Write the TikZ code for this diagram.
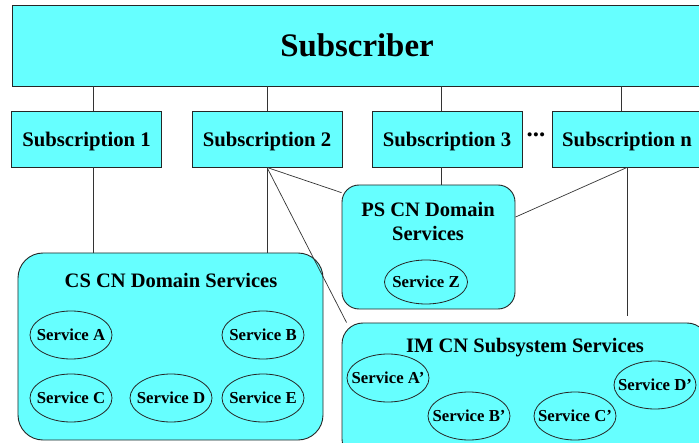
\documentclass[tikz,border=0pt]{standalone}
\usepackage{fontspec}
\setmainfont{Liberation Serif}
\usetikzlibrary{shapes.geometric,calc}
\definecolor{boxcyan}{RGB}{102,255,255}
\newcommand{\svctext}[1]{\makebox[0pt][c]{#1}}
\begin{document}
\begin{tikzpicture}[x=1bp,y=-1bp,
  box/.style={draw=black!85, fill=boxcyan, line width=0.9bp, rectangle, inner sep=0pt},
  subbox/.style={box, minimum width=150bp, minimum height=56bp, text depth=0pt,
    font=\fontsize{20.8}{24}\selectfont\bfseries},
  domainbox/.style={box, rounded corners=#1},
  titletext/.style={inner sep=0pt, text depth=0pt, font=\fontsize{20.6}{24}\selectfont\bfseries, align=center},
  svc/.style={ellipse, draw=black!85, line width=0.8bp, inner sep=0pt,
    minimum width=82bp, minimum height=48bp, font=\fontsize{16.8}{19}\selectfont\bfseries},
  conn/.style={draw=black!80, line width=0.7bp}
]
\useasboundingbox (0,0) rectangle (699,443);
\clip (0,0) rectangle (699,443);

% top box
\node[box, minimum width=690bp, minimum height=81bp, font=\fontsize{33}{38}\selectfont\bfseries] (subscriber) at (357,45.5) {Subscriber};

% subscriptions
\node[subbox] (sub1) at (86.5,139) {Subscription 1};
\node[subbox] (sub2) at (267,139) {Subscription 2};
\node[subbox] (sub3) at (447,139) {Subscription 3};
\node[subbox] (subn) at (627,139) {Subscription n};
\node[inner sep=0pt, anchor=base, font=\fontsize{25}{28}\selectfont\bfseries] (dots) at (536,137) {...};

% domain containers
\node[domainbox=25bp, minimum width=305bp, minimum height=187bp] (cs) at (170.5,346.5) {};
\node[domainbox=17bp, minimum width=173bp, minimum height=124bp] (ps) at (428.5,247) {};
\node[domainbox=21bp, minimum width=366bp, minimum height=137bp] (im) at (525,391.5) {};

\node[titletext] (cstitle) at (171,280) {CS CN Domain Services};
\node[titletext] (pstitle) at (428,221) {PS CN Domain\\Services};
\node[titletext] (imtitle) at (525,345) {IM CN Subsystem Services};

% services
\node[svc] (sA) at (71,335) {\svctext{Service A}};
\node[svc] (sB) at (263,335) {\svctext{Service B}};
\node[svc] (sC) at (71,398) {\svctext{Service C}};
\node[svc] (sD) at (171,398) {\svctext{Service D}};
\node[svc] (sE) at (263,398) {\svctext{Service E}};
\node[svc, minimum width=83bp, minimum height=44bp] (sZ) at (426,282) {\svctext{Service Z}};
\node[svc] (sAp) at (388,378) {\svctext{Service A’}};
\node[svc] (sBp) at (469,416) {\svctext{Service B’}};
\node[svc] (sCp) at (575,416) {\svctext{Service C’}};
\node[svc] (sDp) at (655,385) {\svctext{Service D’}};

% connector x positions
\coordinate (c1x) at (93,0);
\coordinate (c2x) at (267,0);
\coordinate (c3x) at (441,0);
\coordinate (cnx) at (621,0);
\coordinate (nend) at (627,316);
\coordinate (imcorner) at ($(im.north west)+(5,0)$);

\draw[conn] (subscriber.south -| c1x) -- (sub1.north -| c1x);
\draw[conn] (subscriber.south -| c2x) -- (sub2.north -| c2x);
\draw[conn] (subscriber.south -| c3x) -- (sub3.north -| c3x);
\draw[conn] (subscriber.south -| cnx) -- (subn.north -| cnx);

\draw[conn] (sub1.south -| c1x) -- (cs.north -| c1x);
\draw[conn] (sub2.south) -- (cs.north -| sub2.south);
\draw[conn] (sub2.south) -- (ps.148.7);
\draw[conn] (sub2.south) -- (imcorner);
\draw[conn] (sub3.south -| c3x) -- (ps.north -| c3x);
\draw[conn] (subn.south) -- (ps.19.7);
\draw[conn] (subn.south) -- (nend);
\end{tikzpicture}
\end{document}
